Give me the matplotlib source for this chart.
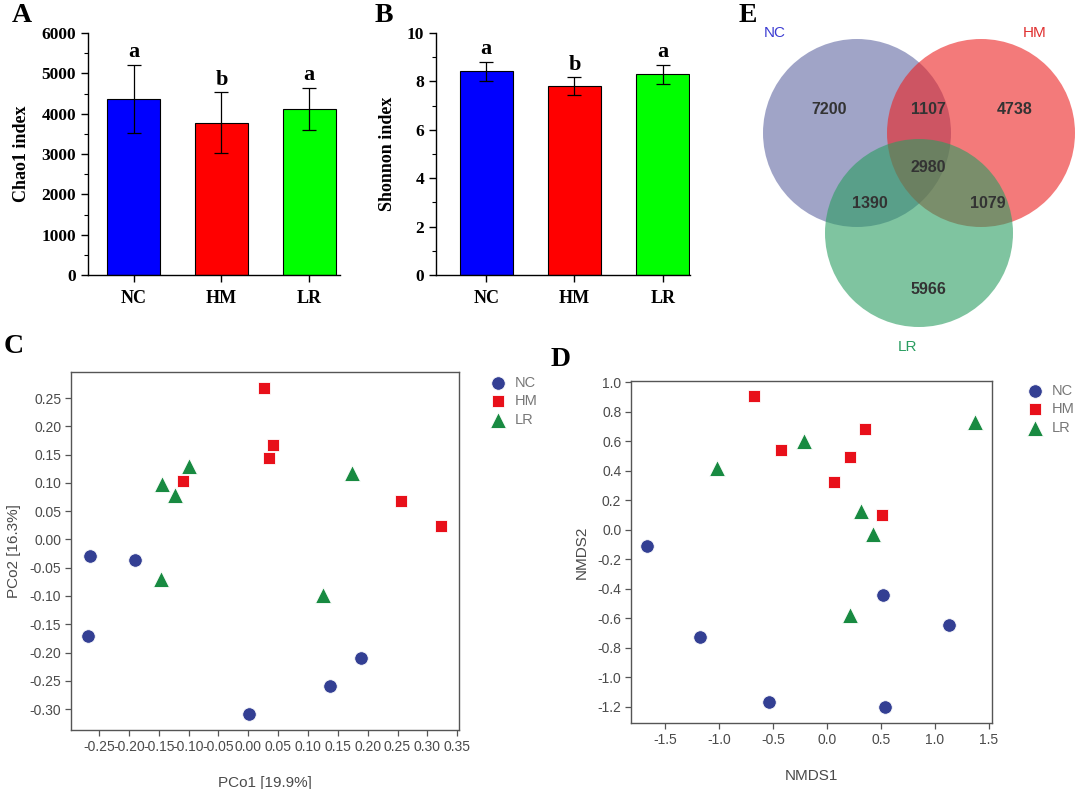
import matplotlib
matplotlib.use('Agg')
import matplotlib.pyplot as plt
from matplotlib.patches import Circle
from matplotlib.ticker import MultipleLocator

# ---- data ----
groups = ['NC', 'HM', 'LR']
bar_colors = ['#0000ff', '#ff0000', '#00ff00']

chao1_mean = [4360, 3780, 4110]
chao1_err = [840, 745, 525]
chao1_sig = ['a', 'b', 'a']

shannon_mean = [8.42, 7.80, 8.30]
shannon_err = [0.39, 0.37, 0.39]
shannon_sig = ['a', 'b', 'a']

# PCoA (panel C)
pcoa_nc_x = [-0.266, -0.189, -0.268, 0.188, 0.137, 0.002]
pcoa_nc_y = [-0.030, -0.037, -0.170, -0.210, -0.259, -0.308]
pcoa_hm_x = [0.027, 0.042, 0.035, -0.109, 0.256, 0.323]
pcoa_hm_y = [0.268, 0.167, 0.144, 0.104, 0.068, 0.024]
pcoa_lr_x = [-0.100, -0.145, -0.122, 0.174, -0.147, 0.125]
pcoa_lr_y = [0.130, 0.098, 0.079, 0.117, -0.070, -0.098]

# NMDS (panel D)
nmds_nc_x = [-1.673, -1.176, -0.537, 0.534, 0.522, 1.127]
nmds_nc_y = [-0.111, -0.726, -1.169, -1.200, -0.443, -0.642]
nmds_hm_x = [-0.676, -0.426, 0.349, 0.210, 0.062, 0.509]
nmds_hm_y = [0.909, 0.540, 0.686, 0.496, 0.327, 0.101]
nmds_lr_x = [-1.025, -0.213, 1.370, 0.318, 0.423, 0.213]
nmds_lr_y = [0.420, 0.605, 0.735, 0.127, -0.027, -0.574]

# Venn (panel E): NC only, NC&HM, HM only, all, NC&LR, HM&LR, LR only
venn_counts = [7200, 1107, 4738, 2980, 1390, 1079, 5966]

W, H = 1080, 789
fig = plt.figure(figsize=(W / 100, H / 100), dpi=100)


def px_axes(left, top, right, bottom):
    return fig.add_axes([left / W, 1 - bottom / H, (right - left) / W, (bottom - top) / H])


serif = 'Liberation Serif'
sans = 'Liberation Sans'


def bar_panel(ax, means, errs, sig, ylabel, ymax, major, minor, xlim):
    x = range(len(groups))
    ax.bar(x, means, width=0.6, color=bar_colors, edgecolor='black', linewidth=0.8, zorder=2)
    ax.errorbar(x, means, yerr=errs, fmt='none', ecolor='black', elinewidth=0.9,
                capsize=5, capthick=0.9, zorder=3)
    for i in x:
        ax.annotate(sig[i], (i, means[i] + errs[i]), xytext=(0, 2), textcoords='offset points',
                    ha='center', va='bottom', fontsize=16, fontweight='bold', family=serif)
    ax.set_ylim(0, ymax)
    ax.set_xlim(*xlim)
    ax.yaxis.set_major_locator(MultipleLocator(major))
    ax.yaxis.set_minor_locator(MultipleLocator(minor))
    ax.set_xticks(list(x))
    ax.set_xticklabels(groups)
    for s in ['top', 'right']:
        ax.spines[s].set_visible(False)
    for s in ['left', 'bottom']:
        ax.spines[s].set_linewidth(1.0)
    ax.tick_params(which='major', direction='out', length=5, width=1.0, labelsize=12.5)
    ax.tick_params(which='minor', direction='out', length=3, width=0.8)
    ax.tick_params(axis='x', labelsize=13, pad=6)
    for lab in ax.get_xticklabels() + ax.get_yticklabels():
        lab.set_fontweight('bold')
        lab.set_family(serif)
    ax.set_ylabel(ylabel, fontsize=13, fontweight='bold', family=serif, labelpad=8)


axA = px_axes(88, 33, 340, 275)
bar_panel(axA, chao1_mean, chao1_err, chao1_sig, 'Chao1 index', 6000, 1000, 500, (-0.52, 2.35))
axB = px_axes(436, 33, 690, 275)
bar_panel(axB, shannon_mean, shannon_err, shannon_sig, 'Shonnon index', 10, 2, 1, (-0.57, 2.31))

# ---- scatter panels ----
nc_col = '#333f93'
hm_col = '#e8101a'
lr_col = '#188a41'
grey = '#4a4a4a'


def scatter_panel(ax, nc, hm, lr, xlabel, ylabel, xlim, ylim, xticks, yticks, fmt, legend_at):
    ax.scatter(nc[0], nc[1], s=95, marker='o', color=nc_col, edgecolors='white', linewidths=0.6, label='NC', zorder=3)
    ax.scatter(hm[0], hm[1], s=70, marker='s', color=hm_col, edgecolors='white', linewidths=0.6, label='HM', zorder=3)
    ax.scatter(lr[0], lr[1], s=130, marker='^', color=lr_col, edgecolors='white', linewidths=0.6, label='LR', zorder=3)
    ax.set_xlim(*xlim)
    ax.set_ylim(*ylim)
    ax.set_xticks(xticks)
    ax.set_yticks(yticks)
    ax.set_xticklabels([fmt.format(v) for v in xticks])
    ax.set_yticklabels([fmt.format(v) for v in yticks])
    for s in ax.spines.values():
        s.set_color('#555555')
        s.set_linewidth(1.0)
    ax.tick_params(direction='out', length=4, width=0.9, color='#555555', labelsize=10,
                   labelcolor=grey, pad=3)
    for lab in ax.get_xticklabels() + ax.get_yticklabels():
        lab.set_family(sans)
    ax.set_xlabel(xlabel, fontsize=11, color=grey, family=sans, labelpad=16)
    ax.set_ylabel(ylabel, fontsize=11, color=grey, family=sans, labelpad=6)
    leg = ax.legend(loc='upper left', bbox_to_anchor=legend_at, bbox_transform=fig.transFigure,
                    frameon=False, handletextpad=0.1, labelspacing=0.3,
                    borderaxespad=0, prop={'family': sans, 'size': 10.5})
    for t in leg.get_texts():
        t.set_color('#777777')


axC = px_axes(71, 372, 459, 730)
scatter_panel(axC, (pcoa_nc_x, pcoa_nc_y), (pcoa_hm_x, pcoa_hm_y), (pcoa_lr_x, pcoa_lr_y),
              'PCo1 [19.9%]', 'PCo2 [16.3%]', (-0.297, 0.353), (-0.337, 0.296),
              [-0.25, -0.20, -0.15, -0.10, -0.05, 0.00, 0.05, 0.10, 0.15, 0.20, 0.25, 0.30, 0.35],
              [-0.30, -0.25, -0.20, -0.15, -0.10, -0.05, 0.00, 0.05, 0.10, 0.15, 0.20, 0.25],
              '{:.2f}', (478 / W, 1 - 370 / H))

axD = px_axes(631, 381, 992, 723)
scatter_panel(axD, (nmds_nc_x, nmds_nc_y), (nmds_hm_x, nmds_hm_y), (nmds_lr_x, nmds_lr_y),
              'NMDS1', 'NMDS2', (-1.82, 1.53), (-1.31, 1.01),
              [-1.5, -1.0, -0.5, 0.0, 0.5, 1.0, 1.5],
              [-1.2, -1.0, -0.8, -0.6, -0.4, -0.2, 0.0, 0.2, 0.4, 0.6, 0.8, 1.0],
              '{:.1f}', (1015 / W, 1 - 378 / H))

# ---- Venn panel ----
axE = px_axes(740, 0, 1080, 360)
axE.set_xlim(740, 1080)
axE.set_ylim(360, 0)
axE.axis('off')
r = 94
centers = {'NC': (857, 133), 'HM': (981, 133), 'LR': (919, 233)}
venn_fill = {'NC': '#6168a3', 'HM': '#ec2121', 'LR': '#2a9d61'}
for g in groups:
    axE.add_patch(Circle(centers[g], r, facecolor=venn_fill[g], alpha=0.6, edgecolor='none'))
count_pos = [(829, 109), (928, 109), (1015, 109), (928, 167), (870, 203), (988, 203), (928, 290)]
for (cx, cy), n in zip(count_pos, venn_counts):
    axE.text(cx, cy, str(n), ha='center', va='center', fontsize=11.5, fontweight='bold',
             color='#333333', family=sans)
axE.text(775, 33, 'NC', ha='center', va='center', fontsize=11, color='#3c3cd2', family=sans)
axE.text(1035, 33, 'HM', ha='center', va='center', fontsize=11, color='#e03030', family=sans)
axE.text(907, 347, 'LR', ha='center', va='center', fontsize=11, color='#2a9d61', family=sans)

# panel letters
for lab, (lx, ly) in zip('ABCDE', [(22, 15), (384, 15), (14, 347), (561, 360), (748, 15)]):
    fig.text(lx / W, 1 - ly / H, lab, ha='center', va='center', fontsize=20,
             fontweight='bold', family=serif)

fig.savefig('out.png', dpi=100)
